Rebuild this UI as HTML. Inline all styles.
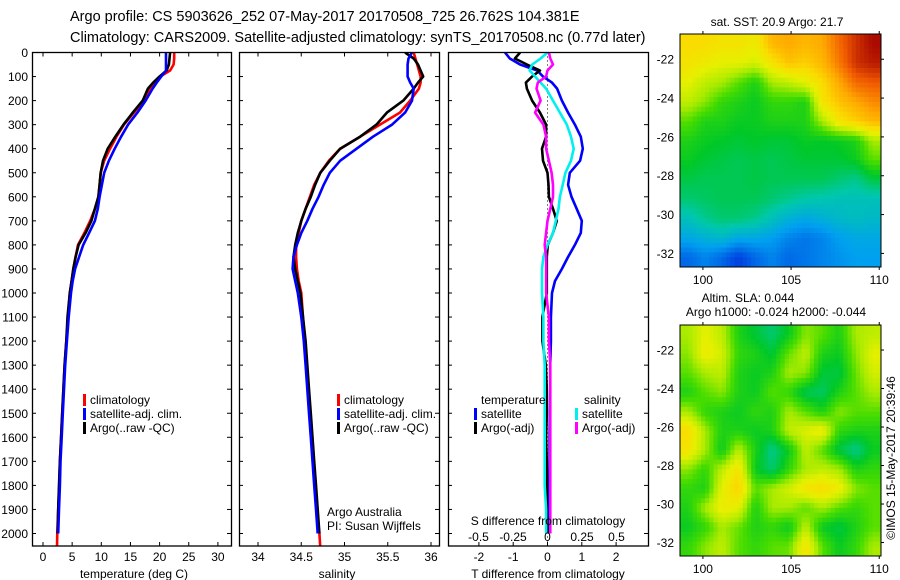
<!DOCTYPE html>
<html><head><meta charset="utf-8">
<style>
html,body{margin:0;padding:0;background:#fff;}
svg{display:block;font-family:"Liberation Sans",Arial,sans-serif;}
</style></head>
<body>
<svg id="fig" width="900" height="580" viewBox="0 0 900 580">
<text x="70" y="21" font-size="14.5">Argo profile: CS 5903626_252 07-May-2017 20170508_725 26.762S 104.381E</text>
<text x="70" y="42" font-size="14.5">Climatology: CARS2009. Satellite-adjusted climatology: synTS_20170508.nc (0.77d later)</text>
</svg>
<script>
// ---------- data ----------
const depthLevels=[0,25,50,75,100,125,150,200,250,300,350,400,450,500,550,600,650,700,750,800,850,900,950,1000,1100,1200,1300,1400,1500,1600,1700,1800,1900,2000];
const tempClim=[22.5,22.5,22.4,21.8,20.1,19.2,18.4,17.3,15.6,13.9,12.6,11.5,10.5,9.9,9.7,9.5,8.9,8.1,7.1,6.0,5.6,5.2,4.9,4.6,4.3,4.0,3.7,3.5,3.3,3.1,2.9,2.8,2.6,2.45];
const tempSat=[21.1,21.1,21.1,21.1,20.3,19.5,18.8,17.6,16.2,14.6,13.4,12.3,11.3,10.5,10.1,9.7,9.4,8.9,7.9,6.9,6.2,5.5,5.1,4.8,4.4,4.1,3.8,3.6,3.4,3.2,3.0,2.9,2.75,2.6];
const tempArgo=[21.8,21.7,21.6,21.2,20.0,18.9,18.0,17.1,15.4,13.8,12.4,11.1,10.3,9.9,9.7,9.5,8.9,8.3,7.3,6.1,5.6,5.2,4.9,4.6,4.2,4.0,3.7,3.5,3.3,3.1,2.9,2.75,2.6,2.5];
const salClim=[35.80,35.82,35.84,35.86,35.88,35.88,35.86,35.76,35.64,35.41,35.18,34.95,34.82,34.72,34.65,34.60,34.55,34.50,34.47,34.44,34.44,34.45,34.47,34.50,34.52,34.54,34.56,34.58,34.60,34.62,34.64,34.66,34.68,34.71];
const salSat=[35.78,35.74,35.73,35.73,35.73,35.76,35.80,35.78,35.70,35.55,35.33,35.14,34.95,34.83,34.76,34.70,34.63,34.57,34.50,34.45,34.41,34.40,34.43,34.46,34.50,34.53,34.55,34.57,34.59,34.61,34.63,34.65,34.67,34.69];
const salArgo=[35.70,35.80,35.85,35.88,35.91,35.85,35.80,35.68,35.49,35.37,35.18,34.95,34.83,34.72,34.66,34.61,34.55,34.50,34.46,34.43,34.41,34.43,34.46,34.49,34.52,34.55,34.57,34.59,34.61,34.63,34.65,34.67,34.69,34.71];
const tDiffSat=[-1.24,-1.1,-0.8,-0.3,-0.13,0.13,0.28,0.42,0.6,0.8,0.97,1.03,0.95,0.65,0.6,0.7,0.85,1.0,0.97,0.8,0.6,0.42,0.22,0.13,0.1,0.1,0.08,0.08,0.07,0.06,0.06,0.05,0.05,0.05];
const tDiffArgo=[-0.8,-0.95,-0.6,-0.22,-0.45,-0.63,-0.6,-0.45,-0.22,-0.04,-0.04,-0.16,-0.13,0,0.03,0.04,0.16,0.27,0.16,0.01,-0.02,-0.02,-0.02,-0.02,-0.15,-0.15,-0.05,-0.02,-0.02,-0.04,-0.02,-0.02,-0.02,0];
const sDiffSat=[0,-0.05,-0.11,-0.13,-0.09,-0.05,-0.01,0.04,0.09,0.14,0.17,0.19,0.17,0.13,0.11,0.09,0.08,0.06,0.04,0,-0.03,-0.04,-0.04,-0.04,-0.03,-0.03,-0.02,-0.02,-0.02,-0.02,-0.02,-0.02,-0.01,-0.01];
const sDiffArgo=[0.01,0.02,0.04,0,-0.01,-0.07,-0.08,-0.05,-0.09,-0.03,-0.01,-0.01,0.01,0.03,0.04,0.04,0.02,0,-0.01,-0.02,-0.01,-0.01,-0.01,-0.01,0.01,0.01,0.02,0.02,0.02,0.02,0.02,0.02,0.02,0.02];
const depthTicks=[0,100,200,300,400,500,600,700,800,900,1000,1100,1200,1300,1400,1500,1600,1700,1800,1900,2000];
const tempTicks=[0,5,10,15,20,25,30];
const salTicks=[34,34.5,35,35.5,36];
const salTickLabels=["34","34.5","35","35.5","36"];
const tDiffTicks=[-2,-1,0,1,2];
const sDiffTicks=[-0.5,-0.25,0,0.25,0.5];
const sDiffTickLabels=["-0.5","-0.25","0","0.25","0.5"];
const mapLons=[100,105,110];
const mapLats=[-22,-24,-26,-28,-30,-32];
const sstGrid=[
[0.72,0.72,0.70,0.70,0.68,0.78,0.80,0.78,0.80,0.88,0.95,1.00],
[0.70,0.68,0.66,0.66,0.64,0.70,0.76,0.74,0.78,0.86,0.95,0.98],
[0.66,0.62,0.60,0.55,0.50,0.60,0.62,0.66,0.72,0.80,0.88,0.90],
[0.62,0.58,0.52,0.50,0.48,0.52,0.52,0.50,0.70,0.76,0.80,0.84],
[0.55,0.50,0.50,0.48,0.48,0.50,0.50,0.50,0.60,0.70,0.74,0.78],
[0.50,0.48,0.47,0.46,0.47,0.46,0.46,0.48,0.47,0.48,0.50,0.60],
[0.48,0.46,0.45,0.44,0.45,0.44,0.45,0.46,0.46,0.46,0.48,0.55],
[0.45,0.44,0.44,0.44,0.45,0.44,0.44,0.44,0.44,0.42,0.40,0.45],
[0.42,0.43,0.44,0.44,0.44,0.42,0.40,0.38,0.37,0.36,0.36,0.36],
[0.36,0.40,0.42,0.42,0.40,0.36,0.32,0.30,0.32,0.34,0.35,0.34],
[0.30,0.32,0.34,0.30,0.30,0.28,0.24,0.22,0.24,0.28,0.30,0.30],
[0.20,0.24,0.20,0.14,0.20,0.24,0.20,0.22,0.24,0.26,0.28,0.28]];
const slaGrid=[
[0.60,0.66,0.62,0.50,0.46,0.42,0.48,0.58,0.55,0.50,0.60,0.62],
[0.58,0.68,0.64,0.52,0.50,0.46,0.56,0.62,0.50,0.48,0.58,0.66],
[0.55,0.60,0.62,0.50,0.48,0.50,0.60,0.58,0.46,0.45,0.56,0.64],
[0.50,0.55,0.58,0.50,0.48,0.55,0.52,0.44,0.43,0.50,0.55,0.60],
[0.60,0.52,0.50,0.48,0.52,0.50,0.60,0.55,0.50,0.58,0.55,0.55],
[0.72,0.60,0.50,0.50,0.48,0.50,0.62,0.65,0.68,0.52,0.50,0.50],
[0.70,0.60,0.48,0.62,0.50,0.40,0.48,0.62,0.55,0.45,0.40,0.48],
[0.58,0.52,0.62,0.70,0.48,0.42,0.52,0.60,0.62,0.60,0.50,0.52],
[0.52,0.50,0.66,0.74,0.55,0.60,0.64,0.70,0.72,0.68,0.58,0.55],
[0.50,0.60,0.68,0.66,0.50,0.60,0.60,0.55,0.60,0.55,0.52,0.55],
[0.48,0.52,0.60,0.56,0.50,0.52,0.48,0.62,0.48,0.45,0.50,0.55],
[0.52,0.58,0.62,0.55,0.52,0.55,0.56,0.70,0.55,0.48,0.52,0.60]];

// ---------- drawing ----------
const NS="http://www.w3.org/2000/svg";
const svg=document.getElementById('fig');
function mk(tag,attrs,parent){const e=document.createElementNS(NS,tag);for(const k in attrs)e.setAttribute(k,attrs[k]);(parent||svg).appendChild(e);return e;}
function txt(x,y,s,size,anchor,parent){const t=mk('text',{x:x,y:y,'font-size':size,'text-anchor':anchor||'start'},parent);t.textContent=s;return t;}
const FS=12;
const PT=52.5, PB=546;
const yD=d=>PT+d*0.2405;
const xT=v=>43+v*5.83;
const xS=v=>258+(v-34)*86.5;
const xTD=v=>547.5+v*34.3;
const xSD=v=>547.5+v*138;

function frame(x0,x1,name){
  const r=mk('rect',{x:x0+0.5,y:PT,width:x1-x0,height:PB-PT,fill:'none',stroke:'#000','stroke-width':1.3});
  
  
}
function profile(xf,vals,color,name,g){
  let d='';
  depthLevels.forEach((dep,i)=>{const x=xf(vals[i]).toFixed(1),y=yD(dep).toFixed(1);
    d+=(i===0?'M':'L')+x+' '+y;});
  const p=mk('path',{d:d,fill:'none',stroke:color,'stroke-width':2.6,'stroke-linejoin':'round'},g);
  
  
  return p;
}
function clipG(x0,x1,name){
  const id='c'+name;const cp=mk('clipPath',{id:id});mk('rect',{x:x0,y:PT,width:x1-x0,height:PB-PT},cp);
  const g=mk('g',{'clip-path':'url(#'+id+')'});
  
  
  return g;
}

const yAx=mk('g',{});


depthTicks.forEach(d=>{txt(28,yD(d)+4.5,String(d),FS,'end',yAx);});
[[32,231],[239,439],[448,648]].forEach(([a,b])=>{depthTicks.forEach(d=>{const y=yD(d);mk('line',{x1:a,y1:y,x2:a+4,y2:y,stroke:'#000','stroke-width':1});mk('line',{x1:b-4,y1:y,x2:b,y2:y,stroke:'#000','stroke-width':1});});});

// Panel 1
const g1=clipG(32,231,'temperature-plot');
profile(xT,tempClim,'#ff0000','temp-climatology-line',g1);
mk('line',{x1:xT(tempClim[33]),y1:yD(2000),x2:xT(2.4),y2:yD(2060),stroke:'#f00','stroke-width':2.6},g1);
profile(xT,tempArgo,'#000','temp-argo-line',g1);
profile(xT,tempSat,'#0000ff','temp-satellite-line',g1);
frame(32,231,'temperature-panel');
tempTicks.forEach(v=>{const x=xT(v);mk('line',{x1:x,y1:PB-4,x2:x,y2:PB,stroke:'#000'});mk('line',{x1:x,y1:PT,x2:x,y2:PT+4,stroke:'#000'});txt(x,561,String(v),FS,'middle');});
txt(134,578,'temperature (deg C)',FS,'middle');

// Panel 2
const g2=clipG(239,439,'salinity-plot');
profile(xS,salClim,'#ff0000','sal-climatology-line',g2);
mk('line',{x1:xS(salClim[33]),y1:yD(2000),x2:xS(34.72),y2:yD(2060),stroke:'#f00','stroke-width':2.6},g2);
profile(xS,salArgo,'#000','sal-argo-line',g2);
profile(xS,salSat,'#0000ff','sal-satellite-line',g2);
frame(239,439,'salinity-panel');
salTicks.forEach((v,i)=>{const x=xS(v);mk('line',{x1:x,y1:PB-4,x2:x,y2:PB,stroke:'#000'});mk('line',{x1:x,y1:PT,x2:x,y2:PT+4,stroke:'#000'});txt(x,561,salTickLabels[i],FS,'middle');});
txt(337,578,'salinity',FS,'middle');
txt(327,516,'Argo Australia',FS,'start');
txt(327,530,'PI: Susan Wijffels',FS,'start');

// Panel 3
const g3=clipG(448,648,'difference-plot');
mk('line',{x1:xTD(0),y1:PT,x2:xTD(0),y2:PB,stroke:'#000','stroke-width':1,'stroke-dasharray':'1,3'},g3);
profile(xTD,tDiffSat,'#0000ff','tdiff-satellite-line',g3);
profile(xTD,tDiffArgo,'#000','tdiff-argo-line',g3);
profile(xSD,sDiffSat,'#00f0f0','sdiff-satellite-line',g3);
profile(xSD,sDiffArgo,'#ff00ff','sdiff-argo-line',g3);
frame(448,648,'difference-panel');
tDiffTicks.forEach(v=>{const x=xTD(v);mk('line',{x1:x,y1:PB-4,x2:x,y2:PB,stroke:'#000'});txt(x,561,String(v),FS,'middle');});
sDiffTicks.forEach((v,i)=>{txt(xSD(v),541,sDiffTickLabels[i],FS,'middle');});
txt(548,525,'S difference from climatology',FS,'middle');
txt(548,578,'T difference from climatology',FS,'middle');

function legend(x,y,color,label,name){
  const g=mk('g',{});
  
  
  mk('rect',{x:x,y:y-10,width:3,height:12,fill:color},g);
  txt(x+7,y,label,FS,'start',g);
}
legend(83,404,'#ff0000','climatology','legend-temp-climatology');
legend(83,418,'#0000ff','satellite-adj. clim.','legend-temp-satellite');
legend(83,432,'#000','Argo(..raw -QC)','legend-temp-argo');
legend(337,404,'#ff0000','climatology','legend-sal-climatology');
legend(337,418,'#0000ff','satellite-adj. clim.','legend-sal-satellite');
legend(337,432,'#000','Argo(..raw -QC)','legend-sal-argo');
txt(481,404,'temperature',FS,'start');
txt(584,404,'salinity',FS,'start');
legend(474,418,'#0000ff','satellite','legend-tdiff-satellite');
legend(474,432,'#000','Argo(-adj)','legend-tdiff-argo');
legend(575,418,'#00f0f0','satellite','legend-sdiff-satellite');
legend(575,432,'#ff00ff','Argo(-adj)','legend-sdiff-argo');

// ---------- maps ----------
const cmapStops=[[0,[0,0,150]],[0.15,[0,70,225]],[0.28,[0,160,240]],[0.38,[0,200,170]],[0.47,[0,200,40]],[0.54,[70,220,0]],[0.6,[170,235,0]],[0.66,[230,240,0]],[0.72,[250,220,0]],[0.8,[255,170,0]],[0.9,[240,90,0]],[1,[170,10,0]]];
function cmap(v){v=Math.max(0,Math.min(1,v));for(let i=1;i<cmapStops.length;i++){if(v<=cmapStops[i][0]){const [a,ca]=cmapStops[i-1],[b,cb]=cmapStops[i];const t=(v-a)/(b-a);return 'rgb('+ca.map((c,k)=>Math.round(c+(cb[k]-c)*t)).join(',')+')';}}return 'rgb(170,10,0)';}
function sample(grid,r,c){
  const nr=grid.length,nc=grid[0].length;
  r=Math.max(0,Math.min(nr-1,r));c=Math.max(0,Math.min(nc-1,c));
  const r0=Math.floor(r),c0=Math.floor(c),r1=Math.min(nr-1,r0+1),c1=Math.min(nc-1,c0+1),fr=r-r0,fc=c-c0;
  return grid[r0][c0]*(1-fr)*(1-fc)+grid[r0][c1]*(1-fr)*fc+grid[r1][c0]*fr*(1-fc)+grid[r1][c1]*fr*fc;
}
function drawMap(top,bot,grid,name){
  const L=680,R=881;
  const g=mk('g',{});
  
  
  const nr=grid.length,nc=grid[0].length,S=4;
  const cw=(R-L)/(nc*S),ch=(bot-top)/(nr*S);
  for(let i=0;i<nr*S;i++)for(let j=0;j<nc*S;j++){
    const v=sample(grid,(i+0.5)/S-0.5,(j+0.5)/S-0.5);
    const cell=mk('rect',{x:(L+j*cw).toFixed(2),y:(top+i*ch).toFixed(2),width:(cw+0.5).toFixed(2),height:(ch+0.5).toFixed(2),fill:cmap(v)},g);
    
    
  }
  const lon0=98.7,lon1=110.1,latT=-20.7,latB=-32.7;
  const xL=v=>L+(v-lon0)/(lon1-lon0)*(R-L);
  const yL=v=>top+(latT-v)/(latT-latB)*(bot-top);
  mk('rect',{x:L,y:top,width:R-L,height:bot-top,fill:'none',stroke:'#000','stroke-width':1},g);
  mapLons.forEach(v=>{const x=xL(v);mk('line',{x1:x,y1:bot,x2:x,y2:bot+3,stroke:'#000'},g);mk('line',{x1:x,y1:top-3,x2:x,y2:top,stroke:'#000'},g);txt(x,bot+17,String(v),FS,'middle',g);});
  mapLats.forEach(v=>{const y=yL(v);mk('line',{x1:R,y1:y,x2:R+3,y2:y,stroke:'#000'},g);txt(674,y+4.5,String(v),FS,'end',g);});
}
drawMap(34,267,sstGrid,'sst-map');
drawMap(325,556,slaGrid,'sla-map');
txt(777,26,'sat. SST: 20.9 Argo: 21.7',FS,'middle');
txt(748,302,'Altim. SLA: 0.044',FS,'middle');
txt(776,316,'Argo h1000: -0.024 h2000: -0.044',FS,'middle');
const cr=txt(0,0,'©IMOS 15-May-2017 20:39:46',FS,'middle');
cr.setAttribute('transform','translate(895,458) rotate(-90)');


</script>
</body></html>
